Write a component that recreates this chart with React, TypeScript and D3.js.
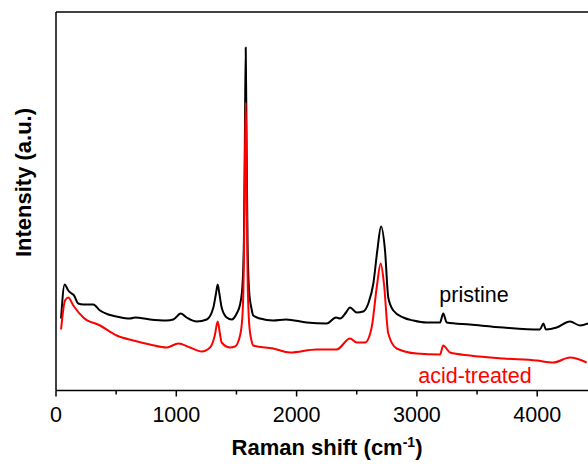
import React from "react";
import * as d3 from "d3";

const pristineShift = [42, 72, 102, 130, 150, 185, 227, 310, 366, 435, 505, 615, 657, 781, 920, 975, 1037, 1086, 1170, 1253, 1308, 1330, 1344, 1358, 1377, 1419, 1461, 1502, 1530, 1550, 1562, 1570, 1577, 1584, 1592, 1605, 1625, 1640, 1696, 1806, 1912, 2084, 2250, 2328, 2361, 2411, 2444, 2500, 2554, 2596, 2638, 2671, 2702, 2735, 2762, 2804, 2887, 2970, 3081, 3192, 3219, 3248, 3441, 3718, 4023, 4051, 4073, 4162, 4273, 4356, 4422];
const pristineIntensity = [72, 106, 100, 97, 95, 87, 86, 86, 80, 76, 74, 72, 73, 71, 70, 71, 77, 73, 69, 71, 83, 97, 106, 97, 83, 73, 71, 77, 86, 105, 150, 250, 343, 250, 150, 100, 82, 75, 72, 70, 71, 68, 67, 73, 72, 78, 83, 78, 79, 87, 107, 140, 164, 140, 93, 80, 73, 70, 68, 68, 77, 68, 66, 63, 61, 67, 61, 63, 69, 65, 67];

const acidShift = [42, 75, 102, 144, 227, 366, 505, 643, 781, 920, 1017, 1114, 1211, 1280, 1320, 1344, 1365, 1377, 1446, 1488, 1530, 1550, 1562, 1570, 1577, 1584, 1592, 1605, 1625, 1640, 1806, 1945, 2167, 2333, 2444, 2500, 2569, 2624, 2666, 2699, 2726, 2762, 2832, 2998, 3192, 3219, 3275, 3441, 3718, 3996, 4134, 4273, 4411];
const acidIntensity = [61, 90, 93, 85, 73, 65, 55, 50, 46, 43, 47, 43, 39, 43, 55, 69, 55, 48, 43, 44, 55, 75, 130, 220, 288, 220, 120, 68, 50, 45, 42, 38, 41, 41, 52, 48, 48, 63, 103, 127, 107, 57, 42, 37, 36, 45, 38, 35, 32, 30, 28, 33, 28];

const xTicks = [0, 1000, 2000, 3000, 4000];
const xMinorTicks = [500, 1500, 2500, 3500, 4500];

const W = 588;
const H = 464;
const left = 56;
const top = 12;
const bottom = 390.5;
const font = "'Liberation Sans', Arial, sans-serif";

export default function App() {
  const x = d3.scaleLinear().domain([0, 4500]).range([left, left + 4500 * 0.1203]);
  const y = d3.scaleLinear().domain([0, 378.5]).range([bottom, top]);

  const line = d3
    .line<[number, number]>()
    .x((d) => x(d[0]))
    .y((d) => y(d[1]))
    .curve(d3.curveMonotoneX);

  const pristine = pristineShift.map((s, i) => [s, pristineIntensity[i]] as [number, number]);
  const acid = acidShift.map((s, i) => [s, acidIntensity[i]] as [number, number]);

  return (
    <svg
      width={W}
      height={H}
      style={{ position: "absolute", left: 0, top: 0, background: "#fff" }}
    >
      <defs>
        <clipPath id="plot">
          <rect x={left} y={top} width={W - left} height={bottom - top} />
        </clipPath>
      </defs>
      <rect x={0} y={0} width={W} height={H} fill="#fff" />
      <g clipPath="url(#plot)">
        <path d={line(pristine) || ""} fill="none" stroke="#000" strokeWidth={2} strokeLinejoin="round" />
        <path d={line(acid) || ""} fill="none" stroke="#ff0000" strokeWidth={2} strokeLinejoin="round" />
      </g>
      <line x1={left} x2={W} y1={top} y2={top} stroke="#000" strokeWidth={1.5} />
      <line x1={left} x2={left} y1={top} y2={bottom} stroke="#000" strokeWidth={1.5} />
      <line x1={left} x2={W} y1={bottom} y2={bottom} stroke="#000" strokeWidth={1.5} />
      {xTicks.map((t) => (
        <g key={t}>
          <line x1={x(t)} x2={x(t)} y1={bottom} y2={bottom + 6} stroke="#000" strokeWidth={1.5} />
          <text x={x(t)} y={421.5} textAnchor="middle" fontFamily={font} fontSize={21.5} fill="#000">
            {t}
          </text>
        </g>
      ))}
      {xMinorTicks.map((t) => (
        <line key={t} x1={x(t)} x2={x(t)} y1={bottom} y2={bottom + 4} stroke="#000" strokeWidth={1.5} />
      ))}
      <text x={474} y={302} textAnchor="middle" fontFamily={font} fontSize={21.5} fill="#000">
        pristine
      </text>
      <text x={475} y={383} textAnchor="middle" fontFamily={font} fontSize={21.5} fill="#ff0000">
        acid-treated
      </text>
      <text x={327} y={455} textAnchor="middle" fontFamily={font} fontSize={22} fontWeight="bold" fill="#000">
        Raman shift (cm<tspan dy={-8} fontSize={14}>-1</tspan><tspan dy={8}>)</tspan>
      </text>
      <text
        transform="translate(30.5,182.5) rotate(-90)"
        textAnchor="middle"
        fontFamily={font}
        fontSize={22}
        fontWeight="bold"
        fill="#000"
      >
        Intensity (a.u.)
      </text>
    </svg>
  );
}
